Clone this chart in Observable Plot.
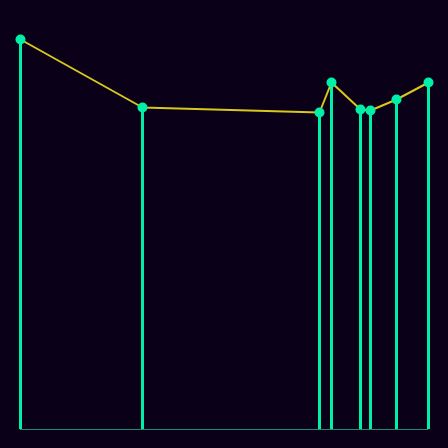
<!DOCTYPE html>
<html>
<head>
<meta charset="utf-8">
<script src="https://cdn.jsdelivr.net/npm/d3@7"></script>
<script src="https://cdn.jsdelivr.net/npm/@observablehq/plot@0.6"></script>
<style>
  html, body { margin: 0; padding: 0; background: #0a0118; }
  #chart svg { display: block; }
</style>
</head>
<body>
<div id="chart"></div>
<script>
const xs = [0, 122, 299, 311, 340, 350, 376, 408];
const ys = [390, 322, 317, 347, 320, 319, 330, 347];
const data = xs.map((x, i) => ({x, y: ys[i]}));

const plot = Plot.plot({
  width: 448,
  height: 448,
  marginLeft: 20,
  marginRight: 20,
  marginTop: 29,
  marginBottom: 19,
  style: {background: "#0a0118"},
  x: {domain: [0, 408], axis: null},
  y: {domain: [0, 400], axis: null},
  marks: [
    Plot.ruleX(data, {x: "x", y1: 0, y2: "y", stroke: "#00f0a8", strokeWidth: 3}),
    Plot.ruleY([0], {stroke: "#1f8a78", strokeWidth: 1.2}),
    Plot.line(data, {x: "x", y: "y", stroke: "#d8c81c", strokeWidth: 2}),
    Plot.dot(data, {x: "x", y: "y", r: 5, fill: "#00f0a8"})
  ]
});
document.getElementById("chart").appendChild(plot);
</script>
</body>
</html>
